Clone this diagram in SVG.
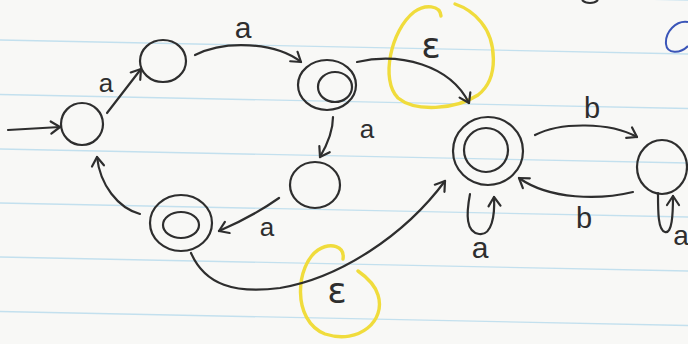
<svg xmlns="http://www.w3.org/2000/svg" width="688" height="344" viewBox="0 0 688 344">
  <style>
    .ink { fill: none; stroke: #2e2e2e; stroke-width: 2.2; stroke-linecap: round; stroke-linejoin: round; }
    .edge { fill: none; stroke: #2e2e2e; stroke-width: 2.2; stroke-linecap: round; marker-end: url(#chev); }
    .hl { fill: none; stroke: #f0dc3c; stroke-width: 3.4; stroke-linecap: round; }
    .rule { stroke: #c3e0ee; stroke-width: 1.4; }
    .lbl { font-family: "Liberation Sans", Arial, sans-serif; fill: #2e2e2e; text-anchor: middle; }
    .eps { font-family: "DejaVu Sans", "Liberation Sans", sans-serif; fill: #2e2e2e; text-anchor: middle; }
  </style>
  <defs>
    <marker id="chev" markerUnits="userSpaceOnUse" markerWidth="20" markerHeight="20" viewBox="-12 -10 14 20" refX="0" refY="0" orient="auto">
      <path d="M-9,-6 L0,0 L-9,6" fill="none" stroke="#2e2e2e" stroke-width="2.2" stroke-linecap="round" stroke-linejoin="round"/>
    </marker>
  </defs>

  <!-- ruled notebook paper -->
  <rect width="688" height="344" fill="#f8f8f6"/>
  <g id="paper-rules">
    <line class="rule" x1="0" y1="-14" x2="688" y2="0"/>
    <line class="rule" x1="0" y1="40" x2="688" y2="54"/>
    <line class="rule" x1="0" y1="94.5" x2="688" y2="108.5"/>
    <line class="rule" x1="0" y1="149" x2="688" y2="163"/>
    <line class="rule" x1="0" y1="203" x2="688" y2="217"/>
    <line class="rule" x1="0" y1="257" x2="688" y2="271"/>
    <line class="rule" x1="0" y1="311.5" x2="688" y2="325.5"/>
  </g>

  <!-- highlighter rings around the epsilon labels -->
  <g id="highlights">
    <path class="hl" d="M441,16 C440,5 425,4 414,12 C391,30 380,80 398,98 C415,112 455,110 478,95 C500,78 496,40 481,22 C473,12 464,7 455,4"/>
    <path class="hl" d="M343,259 C345,246 331,242 318,250 C296,265 291,320 325,334 C360,345 386,320 378,295 C375,285 368,278 358,271"/>
  </g>

  <!-- transitions -->
  <g id="edges">
    <path class="edge" d="M8,130 L60,127"/>
    <path class="edge" d="M107,113 L141,69"/>
    <path class="edge" d="M195,55 C225,40 275,42 301,62"/>
    <path class="edge" d="M333,117 C333,130 327,145 320,157"/>
    <path class="edge" d="M279,198 C262,210 240,222 219,231"/>
    <path class="edge" d="M140,214 C118,208 100,185 97,157"/>
    <path class="edge" d="M357,62 C400,52 450,65 469,103"/>
    <path class="edge" d="M191,253 C205,285 235,294 280,288 C340,278 405,235 445,181"/>
    <path class="edge" d="M535,135 C560,122 610,122 637,137"/>
    <path class="edge" d="M633,192 C600,200 550,200 519,178"/>
    <path class="edge" d="M470,194 C466,215 466,232 479,234 C492,236 495,215 494,197"/>
    <path class="edge" d="M658,193 C658,212 658,230 665,232 C672,234 673,215 673,196"/>
  </g>

  <!-- states -->
  <g id="q0"><ellipse class="ink" cx="82" cy="124" rx="21" ry="21"/></g>
  <g id="q1"><ellipse class="ink" cx="163" cy="61" rx="23" ry="21"/></g>
  <g id="q2">
    <ellipse class="ink" cx="327" cy="85" rx="29" ry="25"/>
    <ellipse class="ink" cx="335" cy="87" rx="17" ry="15"/>
  </g>
  <g id="q3"><ellipse class="ink" cx="315" cy="185" rx="25" ry="23"/></g>
  <g id="q4">
    <ellipse class="ink" cx="181" cy="223" rx="31" ry="28"/>
    <ellipse class="ink" cx="181" cy="225" rx="18" ry="13"/>
  </g>
  <g id="q5">
    <ellipse class="ink" cx="488" cy="151" rx="35" ry="34"/>
    <ellipse class="ink" cx="486" cy="150" rx="22" ry="22"/>
  </g>
  <g id="q6"><ellipse class="ink" cx="662" cy="167" rx="25" ry="27"/></g>

  <!-- transition labels -->
  <g id="labels">
    <text class="lbl" x="106" y="92" font-size="26">a</text>
    <text class="lbl" x="243" y="38" font-size="30">a</text>
    <text class="lbl" x="367" y="138" font-size="26">a</text>
    <text class="lbl" x="267" y="236" font-size="26">a</text>
    <text class="lbl" x="480" y="258" font-size="30">a</text>
    <text class="lbl" x="681" y="245" font-size="28">a</text>
    <text class="lbl" x="592" y="118" font-size="29">b</text>
    <text class="lbl" x="584" y="228" font-size="29">b</text>
    <text class="eps" x="431" y="58" font-size="36">ε</text>
    <text class="eps" x="337" y="303" font-size="36">ε</text>
  </g>

  <!-- stray pen marks at the page edge -->
  <path d="M688,22 C676,20 665,32 666,44 C667,54 680,54 688,46" fill="none" stroke="#3a55b8" stroke-width="2"/>
  <path d="M582,0 C586,4 594,4 598,0" fill="none" stroke="#2e2e2e" stroke-width="2"/>
</svg>
